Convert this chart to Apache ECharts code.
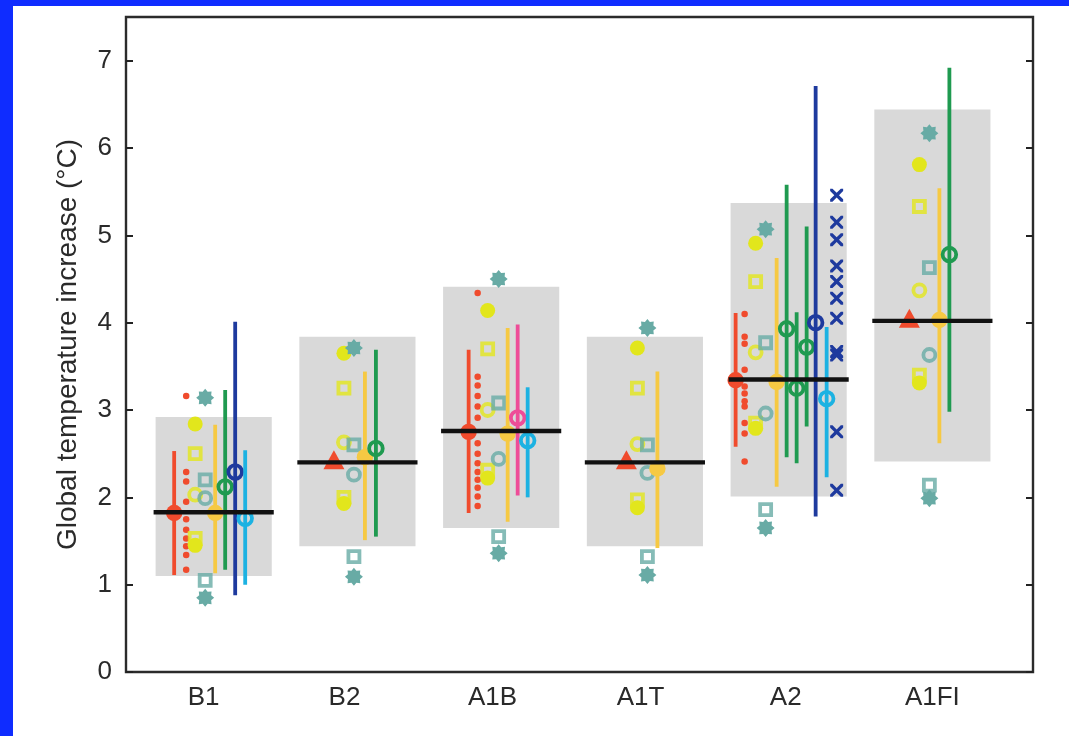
<!DOCTYPE html>
<html>
<head>
<meta charset="utf-8">
<script src="https://cdn.jsdelivr.net/npm/echarts@6/dist/echarts.min.js"></script>
<style>
html,body{margin:0;padding:0;background:#0f2cff;width:1069px;height:736px;overflow:hidden;}
#paper{position:absolute;left:13px;top:6px;width:1056px;height:730px;background:#fff;}
#chart{position:absolute;left:0;top:0;width:1069px;height:736px;}
</style>
</head>
<body>
<div id="paper"></div>
<div id="chart"></div>
<script>
// ---------------- DATA ----------------
const categories = ['B1', 'B2', 'A1B', 'A1T', 'A2', 'A1FI'];
const yTicks = [0, 1, 2, 3, 4, 5, 6, 7];

// AOGCM mean (black line) and likely range (grey bar)
const aogcmMean  = [1.83, 2.40, 2.76, 2.40, 3.35, 4.02];
const likelyLow  = [1.10, 1.44, 1.65, 1.44, 2.01, 2.41];
const likelyHigh = [2.92, 3.84, 4.41, 3.84, 5.37, 6.44];

// ranges: [category, low, high, central]
const redRange = [['B1', 1.11, 2.53, 1.82], ['A1B', 1.82, 3.69, 2.75], ['A2', 2.58, 4.11, 3.34]];
const goldRange = [
  ['B1', 1.13, 2.83, 1.82], ['B2', 1.51, 3.44, 2.46], ['A1B', 1.72, 3.94, 2.73],
  ['A1T', 1.42, 3.44, 2.33], ['A2', 2.12, 4.74, 3.32], ['A1FI', 2.62, 5.54, 4.03]
];
const greenRange = [
  ['B1', 1.17, 3.23, 2.12], ['B2', 1.55, 3.69, 2.56],
  ['A2', 2.46, 5.58, 3.93], ['A2', 2.39, 4.12, 3.25], ['A2', 2.81, 5.10, 3.72],
  ['A1FI', 2.98, 6.92, 4.78]
];
const darkBlueRange = [['B1', 0.88, 4.01, 2.29], ['A2', 1.78, 6.71, 4.00]];
const cyanRange = [['B1', 1.00, 2.54, 1.76], ['A1B', 2.00, 3.26, 2.65], ['A2', 2.23, 3.95, 3.13]];
const pinkRange = [['A1B', 2.02, 3.98, 2.91]];

// single-value markers, one per scenario (null = none)
const redTriangle   = [null, 2.43, null, 2.43, null, 4.05];
const yellowDotHigh = [2.84, 3.65, 4.14, 3.71, 4.91, 5.81];
const yellowDotLow  = [1.45, 1.93, 2.22, 1.88, 2.79, 3.31];
const yellowSqHigh  = [2.50, 3.25, 3.70, 3.25, 4.47, 5.33];
const yellowSqLow   = [1.53, 2.00, 2.31, 1.97, 2.85, 3.40];
const yellowRing    = [2.03, 2.63, 3.00, 2.61, 3.66, 4.37];
const tealStarHigh  = [3.14, 3.71, 4.50, 3.94, 5.07, 6.17];
const tealStarLow   = [0.85, 1.09, 1.36, 1.11, 1.65, 1.99];
const tealSqHigh    = [2.20, 2.60, 3.08, 2.60, 3.77, 4.63];
const tealSqLow     = [1.05, 1.32, 1.55, 1.32, 1.86, 2.14];
const tealRing      = [1.99, 2.26, 2.44, 2.28, 2.96, 3.63];

// probabilistic samples (red dots) and blue crosses
const redDotsB1  = [3.16, 2.29, 2.18, 1.95, 1.75, 1.63, 1.53, 1.44, 1.34, 1.17];
const redDotsA1B = [4.34, 3.38, 3.28, 3.16, 3.04, 2.91, 2.62, 2.50, 2.39, 2.29, 2.20, 2.11, 2.01, 1.90];
const redDotsA2  = [4.10, 3.84, 3.76, 3.46, 3.27, 3.19, 3.10, 3.04, 2.85, 2.73, 2.41];
const blueCrossA2 = [5.46, 5.15, 4.95, 4.65, 4.47, 4.28, 4.05, 3.67, 3.63, 2.75, 2.08];

// ---------------- LAYOUT (pixel offsets inside each scenario group) ----------------
const CAT_PX = 143.7;
const X_MIN = 0.39, X_MAX = 6.70;
const labelPos = [0.93, 1.91, 2.94, 3.97, 4.98, 6.0];
const BOX_HALF = 0.404, MEAN_HALF = 0.418;
const offRedRange = [-39.5, -32.5, -53];
const offRedTri   = [0, -23.5, 0, -18.5, 0, -23];
const offYellow   = [-18.5, -13.5, -13.5, -7.5, -33, -13];
const offTeal     = [-8.5, -3.5, -2.5, 2.5, -23, -3];
const offGold     = [1.5, 7.5, 6.5, 12.5, -12, 7];
const offGreen    = [11.5, 18.5, -2, 8, 18, 17];
const offDarkBlue = [21.5, 27];
const offCyan     = [31.5, 26.5, 38];
const offPink     = [16.5];
const offRedDots  = {B1: -27.5, A1B: -23.5, A2: -44};
const offCross    = 48;

const C = {
  box: '#d9d9d9', red: '#f04b2d', yellow: '#e2e61c', teal: '#68aba5', gold: '#f6c943',
  green: '#1f9a50', darkBlue: '#1e3a9e', cyan: '#1cb2e2', pink: '#ee4c98', text: '#2a2a2a'
};
const FONT = '"Liberation Sans", Arial, Helvetica, sans-serif';

function catX(cat, offPx) { return categories.indexOf(cat) + 1 + offPx / CAT_PX; }

// star (8-pointed) and cross symbols
function starPath() {
  let d = '';
  for (let k = 0; k < 16; k++) {
    const a = k * Math.PI / 8 - Math.PI / 2;
    const r = k % 2 ? 36 : 50;
    d += (k ? 'L' : 'M') + (50 + r * Math.cos(a)).toFixed(2) + ',' + (50 + r * Math.sin(a)).toFixed(2);
  }
  return 'path://' + d + 'Z';
}
const STAR = starPath();
const CROSS = 'path://M0,0L1.8,0L5,3.2L8.2,0L10,0L10,1.8L6.8,5L10,8.2L10,10L8.2,10L5,6.8L1.8,10L0,10L0,8.2L3.2,5L0,1.8Z';

function rangeSeries(entries, offs, color, filled, z) {
  return {
    type: 'custom', z: z,
    data: entries.map((e, i) => [catX(e[0], offs[i]), e[1], e[2], e[3]]),
    encode: {x: 0, y: [1, 2, 3]},
    renderItem: function (params, api) {
      const x = api.value(0);
      const top = api.coord([x, api.value(2)]);
      const bot = api.coord([x, api.value(1)]);
      const mid = api.coord([x, api.value(3)]);
      return {
        type: 'group',
        children: [
          {type: 'line', shape: {x1: top[0], y1: top[1], x2: bot[0], y2: bot[1]},
           style: {stroke: color, lineWidth: 3.8}},
          {type: 'circle', shape: {cx: mid[0], cy: mid[1], r: filled ? 8.2 : 6.8},
           style: filled ? {fill: color} : {fill: 'none', stroke: color, lineWidth: 3.8}}
        ]
      };
    }
  };
}

function markerSeries(vals, offs, symbol, size, color, open, z) {
  const data = [];
  vals.forEach((v, i) => { if (v != null) data.push([i + 1 + offs[i] / CAT_PX, v]); });
  return {
    type: 'scatter', z: z, symbol: symbol, symbolSize: size, data: data,
    itemStyle: open ? {color: 'rgba(0,0,0,0)', borderColor: color, borderWidth: 3.8}
                    : {color: color, opacity: 1},
    emphasis: {disabled: true}
  };
}

function dotSeries(cat, vals, offPx, symbol, size, color, z) {
  return {
    type: 'scatter', z: z, symbol: symbol, symbolSize: size,
    data: vals.map(v => [catX(cat, offPx), v]),
    itemStyle: {color: color, opacity: 1},
    emphasis: {disabled: true}
  };
}

const series = [
  // grey likely-range bars
  {
    type: 'custom', z: 1,
    data: categories.map((c, i) => [i + 1, likelyLow[i], likelyHigh[i]]),
    encode: {x: 0, y: [1, 2]},
    renderItem: function (params, api) {
      const x = api.value(0);
      const p1 = api.coord([x - BOX_HALF, api.value(2)]);
      const p2 = api.coord([x + BOX_HALF, api.value(1)]);
      return {type: 'rect', shape: {x: p1[0], y: p1[1], width: p2[0] - p1[0], height: p2[1] - p1[1]},
              style: {fill: C.box}};
    }
  },
  rangeSeries(redRange, offRedRange, C.red, true, 3),
  dotSeries('B1', redDotsB1, offRedDots.B1, 'circle', 6.5, C.red, 3),
  dotSeries('A1B', redDotsA1B, offRedDots.A1B, 'circle', 6.5, C.red, 3),
  dotSeries('A2', redDotsA2, offRedDots.A2, 'circle', 6.5, C.red, 3),
  markerSeries(yellowSqLow, offYellow, 'rect', 11, C.yellow, true, 3),
  markerSeries(yellowDotHigh, offYellow, 'circle', 15, C.yellow, false, 3),
  markerSeries(yellowDotLow, offYellow, 'circle', 15, C.yellow, false, 3),
  markerSeries(yellowSqHigh, offYellow, 'rect', 11, C.yellow, true, 3),
  markerSeries(yellowRing, offYellow, 'circle', 12, C.yellow, true, 3),
  markerSeries(tealStarHigh, offTeal, STAR, 18, C.teal, false, 4),
  markerSeries(tealStarLow, offTeal, STAR, 18, C.teal, false, 4),
  markerSeries(tealSqHigh, offTeal, 'rect', 11, C.teal, true, 4),
  markerSeries(tealSqLow, offTeal, 'rect', 11, C.teal, true, 4),
  markerSeries(tealRing, offTeal, 'circle', 12, C.teal, true, 4),
  markerSeries(redTriangle, offRedTri, 'triangle', [21, 19], C.red, false, 5),
  rangeSeries(goldRange, offGold, C.gold, true, 5),
  rangeSeries(greenRange, offGreen, C.green, false, 6),
  rangeSeries(pinkRange, offPink, C.pink, false, 6),
  rangeSeries(darkBlueRange, offDarkBlue, C.darkBlue, false, 6),
  rangeSeries(cyanRange, offCyan, C.cyan, false, 6),
  dotSeries('A2', blueCrossA2, offCross, CROSS, 13, C.darkBlue, 6),
  // black AOGCM mean line
  {
    type: 'custom', z: 10,
    data: categories.map((c, i) => [i + 1, aogcmMean[i]]),
    encode: {x: 0, y: 1},
    renderItem: function (params, api) {
      const x = api.value(0);
      const a = api.coord([x - MEAN_HALF, api.value(1)]);
      const b = api.coord([x + MEAN_HALF, api.value(1)]);
      return {type: 'line', shape: {x1: a[0], y1: a[1], x2: b[0], y2: b[1]},
              style: {stroke: '#111', lineWidth: 4.4}};
    }
  }
];

const chart = echarts.init(document.getElementById('chart'), null, {renderer: 'canvas'});
chart.setOption({
  animation: false,
  backgroundColor: 'transparent',
  textStyle: {fontFamily: FONT},
  grid: {left: 126, top: 17, right: 36, bottom: 64, show: true, borderColor: '#2b2b2b', borderWidth: 2.4,
         backgroundColor: 'transparent'},
  xAxis: {
    type: 'value', min: X_MIN, max: X_MAX,
    axisLine: {show: false}, axisTick: {show: false}, splitLine: {show: false},
    axisLabel: {customValues: labelPos, formatter: v => categories[Math.round(v) - 1],
                fontSize: 26, color: C.text, margin: 13, fontFamily: FONT}
  },
  yAxis: [
    {
      type: 'value', min: 0, max: 7.5, position: 'left',
      axisLine: {show: false}, splitLine: {show: false},
      axisTick: {show: true, inside: true, length: 7, customValues: yTicks, lineStyle: {color: '#222', width: 2}},
      axisLabel: {customValues: yTicks, fontSize: 26, color: C.text, margin: 14, fontFamily: FONT},
      name: 'Global temperature increase (°C)', nameLocation: 'middle', nameGap: 44,
      nameTextStyle: {fontSize: 28, color: C.text, fontFamily: FONT}
    },
    {
      type: 'value', min: 0, max: 7.5, position: 'right',
      axisLine: {show: false}, splitLine: {show: false},
      axisTick: {show: true, inside: true, length: 7, customValues: yTicks, lineStyle: {color: '#222', width: 2}},
      axisLabel: {show: false}
    }
  ],
  series: series
});
</script>
</body>
</html>
